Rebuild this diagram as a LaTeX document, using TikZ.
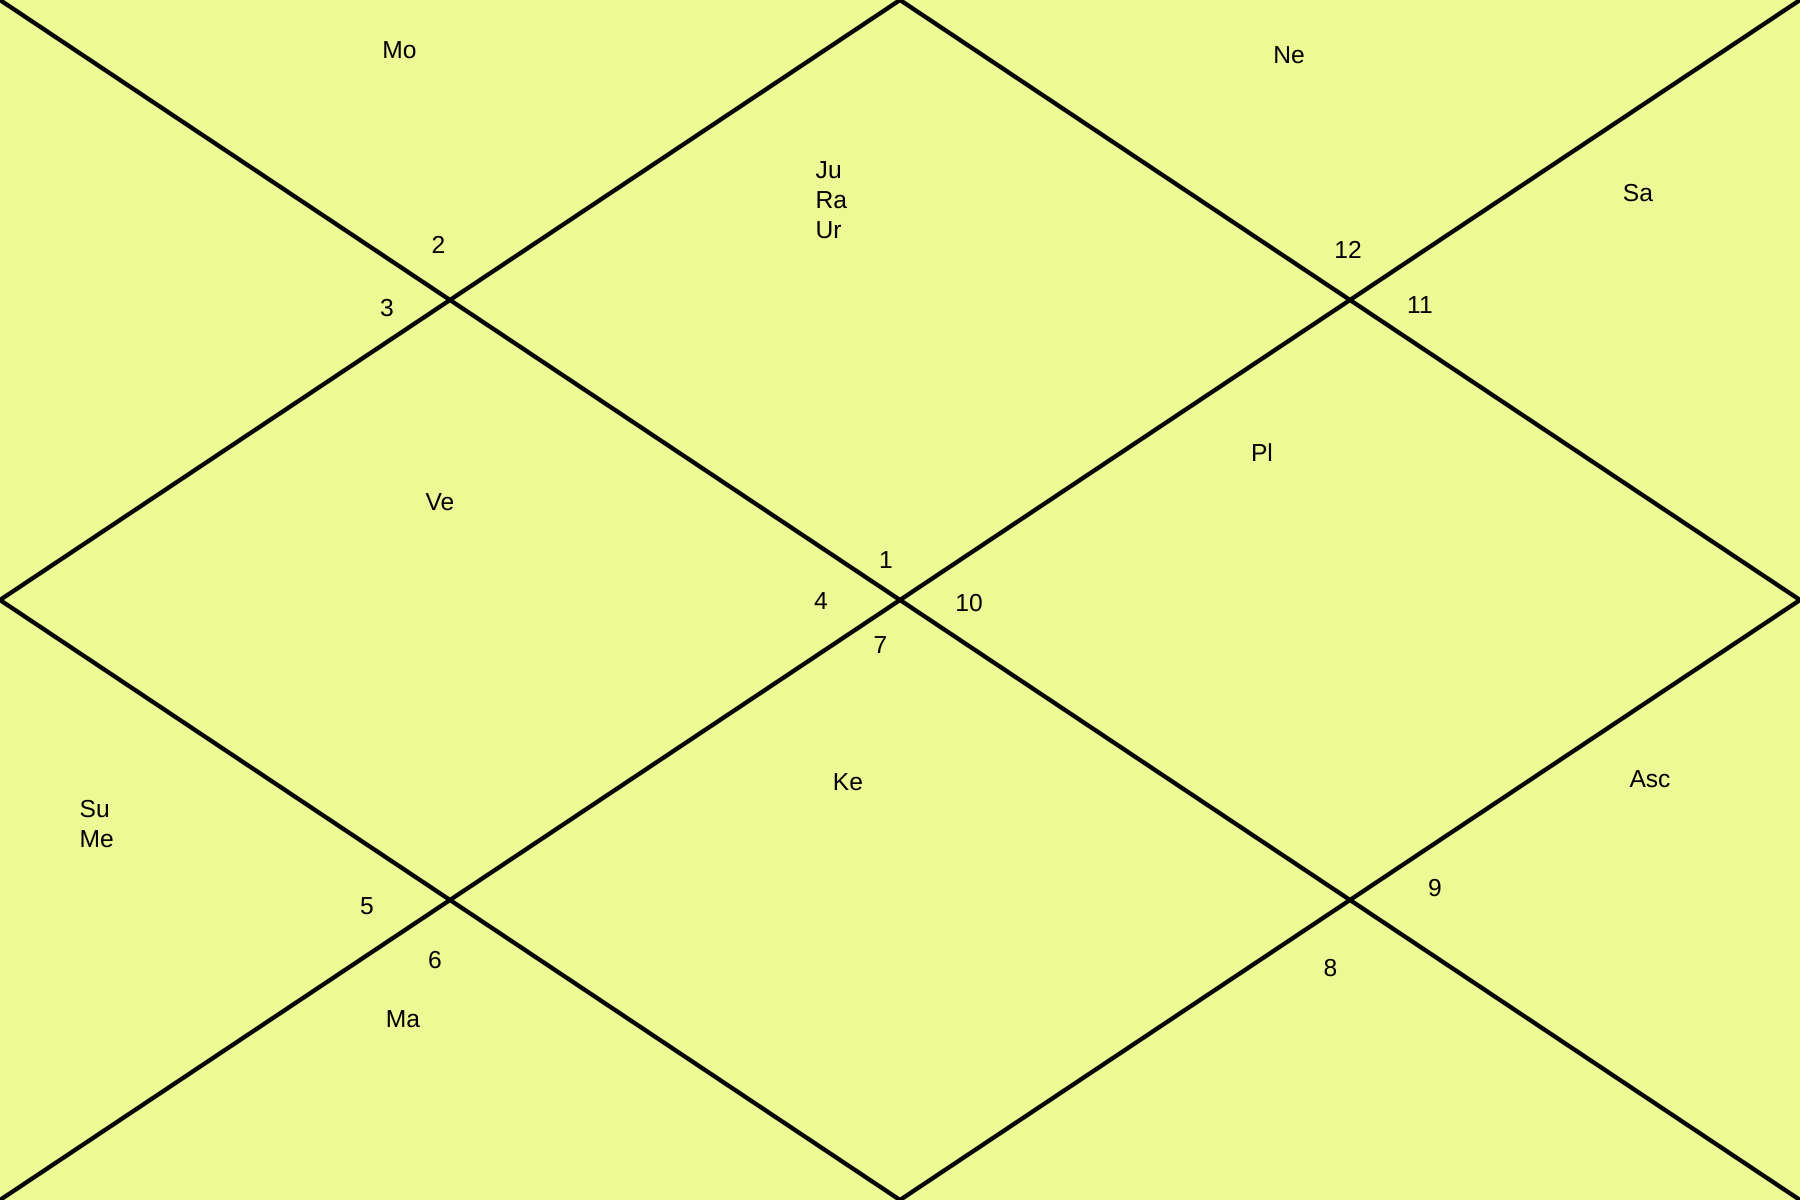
\documentclass[tikz,border=0pt]{standalone}
\usepackage{fontspec}
\setmainfont{Liberation Sans}
\definecolor{chartbg}{RGB}{237,249,148}
\begin{document}
\begin{tikzpicture}[scale=1,
        chartline/.style={line width=1.2pt, black},
        sign/.style={font=\fontsize{7}{8.5}\selectfont, inner sep=0pt},
        planet/.style={font=\fontsize{7}{8.5}\selectfont, inner sep=0pt, align=left}]
        \fill[chartbg] (0,0) rectangle (18,12);
        \useasboundingbox (0,0) rectangle (18,12);

        % Corners and midpoints
        \coordinate (bl) at (0,0);
        \coordinate (br) at (18,0);
        \coordinate (tl) at (0,12);
        \coordinate (tr) at (18,12);
        \coordinate (top) at (9,12);
        \coordinate (rgt) at (18,6);
        \coordinate (bot) at (9,0);
        \coordinate (lft) at (0,6);

        % Diagonals and inner diamond
        \draw[chartline] (tl) -- (br);
        \draw[chartline] (tr) -- (bl);
        \draw[chartline] (top) -- (rgt) -- (bot) -- (lft) -- cycle;

        % House numbers
        \node[sign] (h1) at (8.86,6.40) {1};
        \node[sign] (h2) at (4.385,9.555) {2};
        \node[sign] (h3) at (3.87,8.92) {3};
        \node[sign] (h4) at (8.21,5.985) {4};
        \node[sign] (h5) at (3.67,2.94) {5};
        \node[sign] (h6) at (4.35,2.40) {6};
        \node[sign] (h7) at (8.805,5.55) {7};
        \node[sign] (h8) at (13.305,2.32) {8};
        \node[sign] (h9) at (14.35,3.115) {9};
        \node[sign] (h10) at (9.69,5.97) {10};
        \node[sign] (h11) at (14.20,8.95) {11};
        \node[sign] (h12) at (13.48,9.50) {12};

        % Planets
        \node[planet] (mo) at (3.995,11.495) {Mo};
        \node[planet] (ne) at (12.89,11.45) {Ne};
        \node[planet, anchor=west] (jura) at (8.15,10.0) {Ju\\Ra\\Ur};
        \node[planet] (sa) at (16.38,10.07) {Sa};
        \node[planet] (pl) at (12.62,7.47) {Pl};
        \node[planet] (ve) at (4.40,6.98) {Ve};
        \node[planet] (ke) at (8.48,4.18) {Ke};
        \node[planet] (asc) at (16.50,4.205) {Asc};
        \node[planet, anchor=west] (sume) at (0.79,3.76) {Su\\Me};
        \node[planet] (ma) at (4.03,1.81) {Ma};
    \end{tikzpicture}
\end{document}
